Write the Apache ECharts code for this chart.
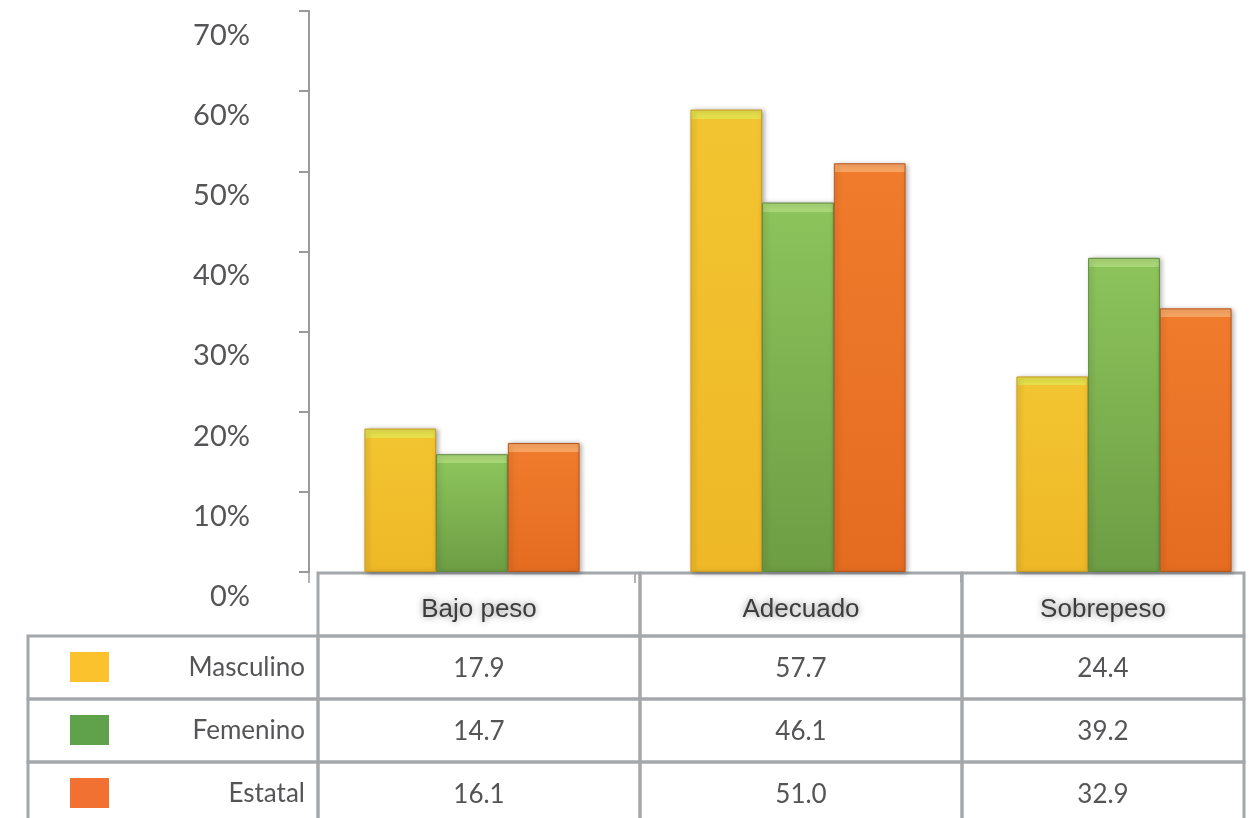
<!DOCTYPE html>
<html>
<head>
<meta charset="utf-8">
<script src="https://cdn.jsdelivr.net/npm/echarts@6/dist/echarts.min.js"></script>
<style>
html,body{margin:0;padding:0;background:#fff;}
#chart{width:1258px;height:818px;}
</style>
</head>
<body>
<div id="chart"></div>
<script>
// ---- data ----
var categories = ['Bajo peso', 'Adecuado', 'Sobrepeso'];
var seriesNames = ['Masculino', 'Femenino', 'Estatal'];
var masculino = [17.9, 57.7, 24.4];
var femenino = [14.7, 46.1, 39.2];
var estatal = [16.1, 51.0, 32.9];
var yTicks = [0, 10, 20, 30, 40, 50, 60, 70];

// ---- styles ----
var seriesValues = [masculino, femenino, estatal];
var legendColors = ['#FBC22D', '#5FA24B', '#F07131'];
var barStyles = [
  {bevel: '#E4DF4A', top: '#F3C431', bottom: '#EEB827', border: '#C99A1E'},
  {bevel: '#A9D676', top: '#8CC35B', bottom: '#6D9D44', border: '#5E8A3A'},
  {bevel: '#F7A462', top: '#F07B2C', bottom: '#E46C21', border: '#B9561A'}
];
var gridTop = 11, gridBottomY = 572;
var pxPerUnit = (gridBottomY - gridTop) / 70;

function barColor(v, s) {
  var h = Math.max(v * pxPerUnit, 1);
  var b = Math.min(9 / h, 0.5);
  return new echarts.graphic.LinearGradient(0, 0, 0, 1, [
    {offset: 0, color: s.bevel},
    {offset: b, color: s.bevel},
    {offset: b + 0.0001, color: s.top},
    {offset: 1, color: s.bottom}
  ]);
}

var barSeries = seriesNames.map(function (name, j) {
  var st = barStyles[j];
  return {
    name: name,
    type: 'bar',
    xAxisIndex: 0,
    yAxisIndex: 0,
    barGap: '0%',
    barCategoryGap: '34%',
    data: seriesValues[j].map(function (v) {
      return {value: v, itemStyle: {color: barColor(v, st)}};
    }),
    itemStyle: {
      borderColor: st.border,
      borderWidth: 1,
      shadowColor: 'rgba(0,0,0,0.35)',
      shadowBlur: 5,
      shadowOffsetX: 2,
      shadowOffsetY: 1
    }
  };
});

// table data: header row + one row per series
var tableData = [];
categories.forEach(function (c, i) {
  tableData.push([i, 0, c]);
  seriesValues.forEach(function (vals, j) {
    tableData.push([i, j + 1, vals[i].toFixed(1)]);
  });
});

var lineColor = '#A5A8AB';
var tableLeftX = 28;
var tableRightX = 1244;

var tableSeries = {
  type: 'custom',
  xAxisIndex: 1,
  yAxisIndex: 1,
  silent: true,
  clip: false,
  encode: {x: 0, y: 1},
  data: tableData,
  renderItem: function (params, api) {
    var col = api.value(0), row = api.value(1);
    var txt = tableData[params.dataIndex][2];
    var c = api.coord([col, row]);
    var sz = api.size([1, 1]);
    var x0 = c[0] - sz[0] / 2, y0 = c[1] - sz[1] / 2;
    var x1 = Math.min(x0 + sz[0], tableRightX);
    var cx = (x0 + x1) / 2;
    var children = [{
      type: 'rect',
      shape: {x: x0, y: y0, width: x1 - x0, height: sz[1]},
      style: {fill: 'none', stroke: lineColor, lineWidth: 3}
    }];
    if (row === 0) {
      children.push({
        type: 'text',
        style: {
          x: cx, y: c[1] + 5, text: txt, align: 'center', verticalAlign: 'middle',
          font: '26px "Liberation Sans", Arial, sans-serif', fill: '#3c3c3c',
          textShadowColor: 'rgba(0,0,0,0.45)', textShadowBlur: 7
        }
      });
    } else {
      children.push({
        type: 'text',
        style: {
          x: cx, y: c[1] + 1, text: txt, align: 'center', verticalAlign: 'middle',
          font: '26px Lato, sans-serif', fill: '#555558'
        }
      });
      if (col === 0) {
        children.push({
          type: 'rect',
          shape: {x: tableLeftX, y: y0, width: x0 - tableLeftX, height: sz[1]},
          style: {fill: 'none', stroke: lineColor, lineWidth: 3}
        });
      }
    }
    return {type: 'group', children: children};
  }
};

var chart = echarts.init(document.getElementById('chart'), null, {renderer: 'canvas'});
chart.setOption({
  animation: false,
  backgroundColor: '#ffffff',
  grid: [
    {left: 309, width: 978, top: gridTop, height: gridBottomY - gridTop, outerBoundsMode: 'none', containLabel: false},
    {left: 318, width: 966, top: 573, height: 252, outerBoundsMode: 'none', containLabel: false}
  ],
  legend: {
    orient: 'vertical',
    left: 70,
    top: 652,
    padding: 0,
    itemWidth: 39,
    itemHeight: 30,
    itemGap: 33,
    icon: 'rect',
    formatter: function () { return ''; },
    textStyle: {fontSize: 1},
    selectedMode: false,
    data: seriesNames.map(function (n, j) {
      return {name: n, itemStyle: {color: legendColors[j], borderWidth: 0, shadowBlur: 0, shadowOffsetX: 0, shadowOffsetY: 0}};
    })
  },
  xAxis: [
    {
      type: 'category', gridIndex: 0, data: categories,
      axisLine: {show: false},
      axisTick: {show: true, length: 11, lineStyle: {color: '#9a9a9a', width: 1.5}},
      axisLabel: {show: false}
    },
    {
      type: 'category', gridIndex: 1, data: categories,
      axisLine: {show: false}, axisTick: {show: false}, axisLabel: {show: false}
    }
  ],
  yAxis: [
    {
      type: 'value', gridIndex: 0, min: yTicks[0], max: yTicks[yTicks.length - 1], interval: 10,
      axisLine: {show: true, lineStyle: {color: '#9a9a9a', width: 2}},
      axisTick: {show: true, inside: false, length: 10, lineStyle: {color: '#9a9a9a', width: 2}},
      splitLine: {show: false},
      axisLabel: {
        formatter: '{value}%', margin: 59, fontSize: 29, fontFamily: 'Lato, sans-serif',
        color: '#555558', verticalAlign: 'top', lineHeight: 29, padding: [10, 0, 0, 0]
      }
    },
    {
      type: 'category', gridIndex: 1, inverse: true,
      data: [''].concat(seriesNames),
      axisLine: {show: false}, axisTick: {show: false}, splitLine: {show: false},
      axisLabel: {margin: 13, fontSize: 26, fontFamily: 'Lato, sans-serif', color: '#555558'}
    }
  ],
  series: barSeries.concat([tableSeries])
});
</script>
</body>
</html>
